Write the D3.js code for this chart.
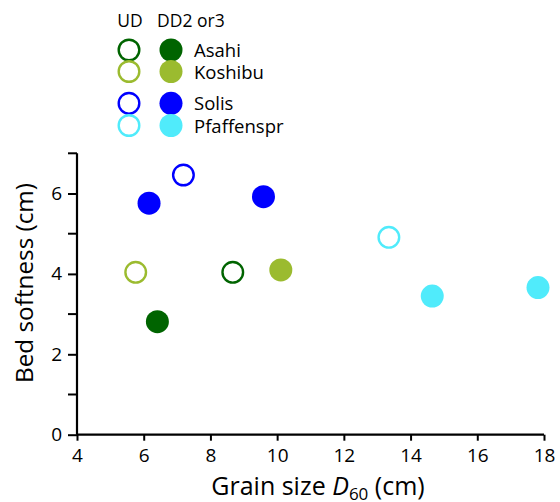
<!DOCTYPE html>
<html><head><meta charset="utf-8">
<script src="https://cdn.jsdelivr.net/npm/d3@7"></script>
<style>body{margin:0;background:#fff}text{font-family:"Open Sans",sans-serif;fill:#000}</style>
</head><body><svg id="c" width="560" height="502"></svg>
<script>
const sites = ["Asahi", "Koshibu", "Solis", "Pfaffenspr"];
const colors = ["#006400", "#9BBB2F", "#0000FF", "#50EBFB"];
const udX = [8.67, 5.76, 7.19, 13.35];
const udY = [4.04, 4.04, 6.46, 4.91];
const ddSite = [0, 1, 2, 2, 3, 3];
const ddX = [6.41, 10.11, 6.16, 9.59, 14.65, 17.82];
const ddY = [2.81, 4.10, 5.76, 5.92, 3.45, 3.66];
const xTicks = [4, 6, 8, 10, 12, 14, 16, 18];
const yTicks = [0, 2, 4, 6];
const yMinor = [1, 3, 5, 7];

const svg = d3.select("#c");
const x = d3.scaleLinear().domain([4, 18]).range([77, 544]);
const y = d3.scaleLinear().domain([0, 7]).range([434.7, 153.3]);

// x axis
const gx = svg.append("g").attr("transform", `translate(0,${y(0)})`)
  .call(d3.axisBottom(x).tickValues(xTicks).tickSize(6).tickPadding(7).tickFormat(d3.format("d")));
gx.select(".domain").attr("d", `M${x(4)},0H${x(18)}`).attr("stroke-width", 2.2);
gx.selectAll(".tick line").attr("stroke-width", 2);
gx.selectAll("text").attr("font-size", 19).attr("font-family", "Open Sans").attr("dy", "0.75em");

// y axis
const gy = svg.append("g").attr("transform", `translate(${x(4)},0)`)
  .call(d3.axisLeft(y).tickValues(yTicks).tickSize(9).tickPadding(6).tickFormat(d3.format("d")));
gy.select(".domain").attr("d", `M0,${y(7)}V${y(0)}`).attr("stroke-width", 2.2);
gy.selectAll(".tick line").attr("stroke-width", 2);
gy.selectAll("text").attr("font-size", 19).attr("font-family", "Open Sans");
gy.selectAll(".minor").data(yMinor).enter().append("line").attr("class", "minor")
  .attr("x1", -9).attr("x2", 0).attr("y1", d => y(d)).attr("y2", d => y(d))
  .attr("stroke", "#000").attr("stroke-width", 2);

// axis titles
svg.append("text").attr("transform", `translate(33,${283}) rotate(-90)`)
  .attr("text-anchor", "middle").attr("font-size", 24)
  .attr("textLength", 200).attr("lengthAdjust", "spacingAndGlyphs")
  .text("Bed softness (cm)");
const xt = svg.append("text").attr("x", 318).attr("y", 495).attr("text-anchor", "middle").attr("font-size", 25);
xt.append("tspan").text("Grain size ");
xt.append("tspan").attr("font-style", "italic").text("D");
xt.append("tspan").attr("font-size", 17).attr("dy", 5).text("60");
xt.append("tspan").attr("dy", -5).text(" (cm)");

// points
svg.append("g").selectAll("circle").data(d3.range(udX.length)).enter().append("circle")
  .attr("cx", i => x(udX[i])).attr("cy", i => y(udY[i])).attr("r", 10.3)
  .attr("fill", "#fff").attr("stroke", i => colors[i]).attr("stroke-width", 2.4);
svg.append("g").selectAll("circle").data(d3.range(ddX.length)).enter().append("circle")
  .attr("cx", i => x(ddX[i])).attr("cy", i => y(ddY[i])).attr("r", 11.5)
  .attr("fill", i => colors[ddSite[i]]);

// legend
svg.append("text").attr("x", 130).attr("y", 27).attr("text-anchor", "middle").attr("font-size", 17.5).text("UD");
svg.append("text").attr("x", 157).attr("y", 27).attr("font-size", 17.5).text("DD2 or3");
const legY = [50, 71.5, 103.3, 125.5];
const lg = svg.append("g").selectAll("g").data(sites).enter().append("g");
lg.append("circle").attr("cx", 129).attr("cy", (d, i) => legY[i]).attr("r", 10.3)
  .attr("fill", "#fff").attr("stroke", (d, i) => colors[i]).attr("stroke-width", 2.4);
lg.append("circle").attr("cx", 171).attr("cy", (d, i) => legY[i]).attr("r", 11.5)
  .attr("fill", (d, i) => colors[i]);
lg.append("text").attr("x", 194).attr("y", (d, i) => legY[i] + 7).attr("font-size", 18.5).text(d => d);
</script></body></html>
